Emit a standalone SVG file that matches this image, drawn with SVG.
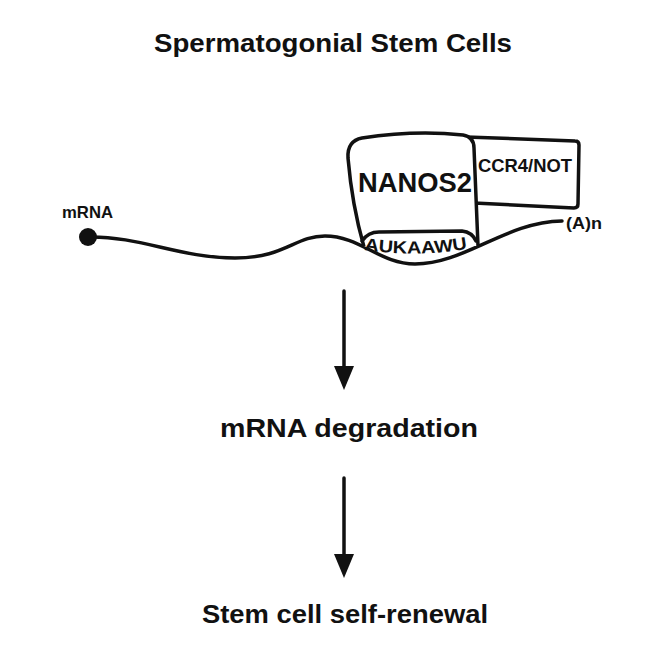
<svg xmlns="http://www.w3.org/2000/svg" width="664" height="664" viewBox="0 0 664 664">
<style>
.t{font-family:"Liberation Sans",Arial,sans-serif;font-weight:bold;fill:#111;}
.ln{fill:none;stroke:#111;stroke-width:3.5;stroke-linecap:round;stroke-linejoin:round;}
.box{fill:#fff;stroke:#111;stroke-width:3.5;stroke-linejoin:round;}
.ah{fill:#111;}
</style>
<defs>
<path id="bandPath" d="M364,250 Q418,258 472,248"/>
</defs>
<rect width="664" height="664" fill="#fff"/>
<text class="t" x="154" y="52" font-size="26" textLength="358" lengthAdjust="spacingAndGlyphs">Spermatogonial Stem Cells</text>

<g id="mrna">
<path class="ln" d="M88,237 C140,236 180,258 235,258 C285,258 295,236 325,236 C360,236 380,264 415,264 C465,264 505,222 562,221"/>
<circle cx="88" cy="237" r="9" fill="#111"/>
<text class="t" x="62" y="218" font-size="16.5" textLength="51" lengthAdjust="spacingAndGlyphs">mRNA</text>
<text class="t" x="566" y="229" font-size="17" textLength="36" lengthAdjust="spacingAndGlyphs">(A)n</text>
</g>

<g id="ccr4not">
<path class="box" d="M466,137 L575,141 Q579,141 579,145 L578,204 Q578,208 574,208 L474,203 Z"/>
<text class="t" x="478" y="172" font-size="17.5" textLength="94" lengthAdjust="spacingAndGlyphs">CCR4/NOT</text>
</g>

<g id="nanos2">
<path class="box" d="M364,247 Q352,205 348,158 Q347,141 362,138 Q415,130 463,135 Q474,137 474,148 L478,246"/>
<path class="ln" d="M362,241 Q368,232 379,232 L462,231 Q472,232 476,241"/>
<text class="t" x="358" y="192" font-size="27" textLength="114" lengthAdjust="spacingAndGlyphs">NANOS2</text>
<text class="t" font-size="17.5" font-weight="bold"><textPath href="#bandPath" textLength="104" lengthAdjust="spacingAndGlyphs">AUKAAWU</textPath></text>
</g>

<g id="connectors">
<line class="ln" x1="344" y1="291" x2="344" y2="368"/>
<polygon class="ah" points="334,366 354,366 344,390"/>
<line class="ln" x1="344" y1="478" x2="344" y2="556"/>
<polygon class="ah" points="334,554 354,554 344,578"/>
</g>

<text id="degradation" class="t" x="220" y="437" font-size="26.5" textLength="258" lengthAdjust="spacingAndGlyphs">mRNA degradation</text>
<text id="renewal" class="t" x="202" y="623" font-size="26.5" textLength="286" lengthAdjust="spacingAndGlyphs">Stem cell self-renewal</text>
</svg>
